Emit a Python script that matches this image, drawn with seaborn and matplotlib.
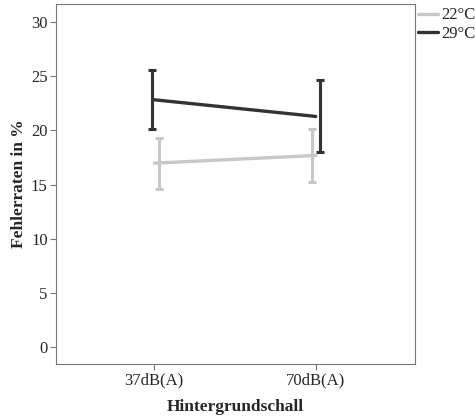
import matplotlib
matplotlib.use("Agg")
import matplotlib.pyplot as plt
import seaborn as sns
import pandas as pd
import numpy as np
from matplotlib.lines import Line2D

categories = ["37dB(A)", "70dB(A)"]
groups = ["22°C", "29°C"]
mean_22 = [16.98, 17.69]
lo_22 = [14.63, 15.25]
hi_22 = [19.35, 20.16]
mean_29 = [22.84, 21.30]
lo_29 = [20.10, 18.00]
hi_29 = [25.62, 24.66]

colors = {"22°C": "#c8c8c8", "29°C": "#333333"}

df = pd.DataFrame({
    "Hintergrundschall": categories * 2,
    "Temp": [groups[0]] * 2 + [groups[1]] * 2,
    "Fehlerraten": mean_22 + mean_29,
})

sns.set_style("white")
plt.rcParams["font.family"] = ["Liberation Serif", "DejaVu Serif"]

fig = plt.figure(figsize=(4.75, 4.18), dpi=100)
ax = fig.add_axes([56 / 475, 1 - 364 / 418, (415 - 56) / 475, (364 - 4) / 418])

sns.pointplot(data=df, x="Hintergrundschall", y="Fehlerraten", hue="Temp",
              hue_order=groups, order=categories, palette=colors,
              markers="", errorbar=None, linewidth=2.4, ax=ax, legend=False)

offsets = {"22°C": [0.031, -0.021], "29°C": [-0.016, 0.027]}
data = {"22°C": (mean_22, lo_22, hi_22), "29°C": (mean_29, lo_29, hi_29)}
for g in groups:
    m, lo, hi = data[g]
    xs = np.arange(len(categories)) + np.array(offsets[g])
    yerr = [np.array(m) - np.array(lo), np.array(hi) - np.array(m)]
    ax.errorbar(xs, m, yerr=yerr, fmt="none", ecolor=colors[g],
                elinewidth=2.2, capsize=2.6, capthick=2.2, zorder=3)

ax.set_xlim(-0.609, 1.615)
ax.set_ylim(-1.6, 31.7)
ax.set_yticks([0, 5, 10, 15, 20, 25, 30])
ax.set_xlabel("Hintergrundschall", fontsize=12.5, fontweight="bold", labelpad=8)
ax.set_ylabel("Fehlerraten in %", fontsize=12.5, fontweight="bold", labelpad=3)
ax.tick_params(axis="both", labelsize=12, length=4, width=0.8, color="#777777",
               direction="out", pad=2, left=True, bottom=True)
for s in ax.spines.values():
    s.set_color("#777777")
    s.set_linewidth(0.8)

handles = [Line2D([], [], color=colors[g], lw=2.4) for g in groups]
ax.legend(handles, groups, loc="upper left", bbox_to_anchor=(0.998, 1.0),
          frameon=False, fontsize=12, handlelength=1.2, handletextpad=0.2,
          labelspacing=0.15, borderaxespad=0.0, borderpad=0.2)

fig.savefig("out.png", dpi=100)
